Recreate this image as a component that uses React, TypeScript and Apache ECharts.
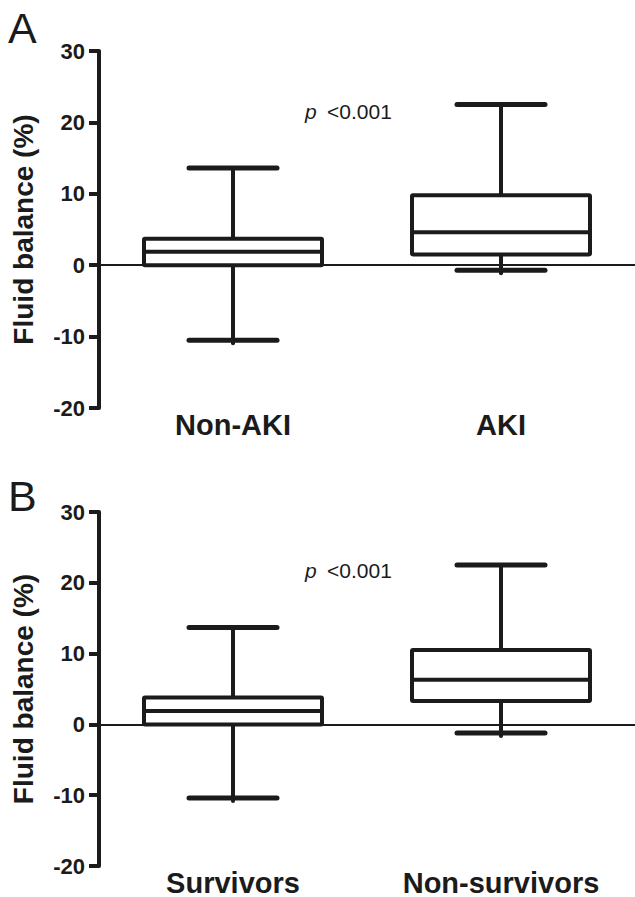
import React, { useEffect, useRef } from "react";
import * as echarts from "echarts";

const groupsA = ["Non-AKI", "AKI"];
const minA = [-10.5, -0.7];
const q1A = [0, 1.5];
const medA = [1.9, 4.6];
const q3A = [3.7, 9.8];
const maxA = [13.6, 22.5];

const groupsB = ["Survivors", "Non-survivors"];
const minB = [-10.4, -1.2];
const q1B = [0, 3.3];
const medB = [1.9, 6.3];
const q3B = [3.8, 10.5];
const maxB = [13.7, 22.5];

const yTicks = [-20, -10, 0, 10, 20, 30];
const pText = "p";
const pValue = "<0.001";

const FONT = "'Liberation Sans', Arial, Helvetica, sans-serif";
const INK = "#1b1b1b";

function buildData(mins: number[], q1s: number[], meds: number[], q3s: number[], maxs: number[]) {
  return mins.map((m, i) => [i, m, q1s[i], meds[i], q3s[i], maxs[i]]);
}

const renderBox = (params: any, api: any) => {
  const idx = api.value(0);
  const pMin = api.coord([idx, api.value(1)]);
  const pQ1 = api.coord([idx, api.value(2)]);
  const pMed = api.coord([idx, api.value(3)]);
  const pQ3 = api.coord([idx, api.value(4)]);
  const pMax = api.coord([idx, api.value(5)]);
  const cx = pMin[0];
  const boxHalf = 89;
  const capHalf = 44;
  const style = { stroke: INK, lineWidth: 4, fill: null, lineCap: "round" };
  return {
    type: "group",
    children: [
      { type: "line", shape: { x1: cx, y1: pQ3[1], x2: cx, y2: pMax[1] }, style },
      { type: "line", shape: { x1: cx, y1: pQ1[1], x2: cx, y2: pMin[1] + 3 }, style },
      { type: "line", shape: { x1: cx - capHalf, y1: pMax[1], x2: cx + capHalf, y2: pMax[1] }, style: { ...style, lineWidth: 5 } },
      { type: "line", shape: { x1: cx - capHalf, y1: pMin[1], x2: cx + capHalf, y2: pMin[1] }, style: { ...style, lineWidth: 5 } },
      {
        type: "rect",
        shape: { x: cx - boxHalf, y: pQ3[1], width: boxHalf * 2, height: pQ1[1] - pQ3[1], r: 1 },
        style: { stroke: INK, lineWidth: 4, fill: "#ffffff", lineJoin: "round" },
      },
      { type: "line", shape: { x1: cx - boxHalf, y1: pMed[1], x2: cx + boxHalf, y2: pMed[1] }, style: { stroke: INK, lineWidth: 4 } },
    ],
  };
};

export default function App() {
  const ref = useRef<HTMLDivElement>(null);

  useEffect(() => {
    document.body.style.margin = "0";
    if (!ref.current) return;
    const chart = echarts.init(ref.current, null, { renderer: "svg" });

    const gridLeft = 99;
    const gridWidth = 542;
    const grids = [
      { left: gridLeft, top: 51, width: gridWidth, height: 357 },
      { left: gridLeft, top: 512, width: gridWidth, height: 358 },
    ];

    const makeX = (cats: string[], gi: number) => ({
      type: "category",
      gridIndex: gi,
      data: cats,
      boundaryGap: true,
      axisLine: { show: false, onZero: false },
      axisTick: { show: false },
      axisLabel: {
        color: INK,
        fontFamily: FONT,
        fontWeight: "bold",
        fontSize: 29,
        margin: 2,
      },
    });

    const makeY = (gi: number) => ({
      type: "value",
      gridIndex: gi,
      min: yTicks[0],
      max: yTicks[yTicks.length - 1],
      interval: 10,
      name: "Fluid balance (%)",
      nameLocation: "middle",
      nameGap: 62,
      nameRotate: 90,
      nameTextStyle: { color: INK, fontFamily: FONT, fontWeight: "bold", fontSize: 28 },
      splitLine: { show: false },
      axisLine: { show: true, lineStyle: { color: INK, width: 4 } },
      axisTick: { show: true, inside: false, length: 10, lineStyle: { color: INK, width: 4 } },
      axisLabel: { color: INK, fontFamily: FONT, fontWeight: "bold", fontSize: 22, margin: 14 },
    });

    const zeroLine = {
      silent: true,
      symbol: ["none", "none"],
      label: { show: false },
      lineStyle: { color: INK, width: 2, type: "solid" },
      data: [{ yAxis: 0 }],
    };

    const pLabels = (top: number) => [
      {
        type: "text",
        left: 305,
        top: top,
        style: { text: pText, fontFamily: FONT, fontStyle: "italic", fontSize: 21, fill: INK },
      },
      {
        type: "text",
        left: 327,
        top: top,
        style: { text: pValue, fontFamily: FONT, fontSize: 21, fill: INK },
      },
    ];

    chart.setOption({
      animation: false,
      backgroundColor: "#ffffff",
      grid: grids,
      xAxis: [makeX(groupsA, 0), makeX(groupsB, 1)],
      yAxis: [makeY(0), makeY(1)],
      series: [
        {
          type: "custom",
          xAxisIndex: 0,
          yAxisIndex: 0,
          renderItem: renderBox,
          data: buildData(minA, q1A, medA, q3A, maxA),
          markLine: zeroLine,
          z: 3,
        },
        {
          type: "custom",
          xAxisIndex: 1,
          yAxisIndex: 1,
          renderItem: renderBox,
          data: buildData(minB, q1B, medB, q3B, maxB),
          markLine: zeroLine,
          z: 3,
        },
      ],
      graphic: [
        { type: "text", left: 8, top: 6, style: { text: "A", fontFamily: FONT, fontSize: 43, fill: INK } },
        { type: "text", left: 8, top: 474, style: { text: "B", fontFamily: FONT, fontSize: 43, fill: INK } },
        ...pLabels(101),
        ...pLabels(560),
      ],
    });

    return () => chart.dispose();
  }, []);

  return <div ref={ref} style={{ width: 635, height: 897 }} />;
}
